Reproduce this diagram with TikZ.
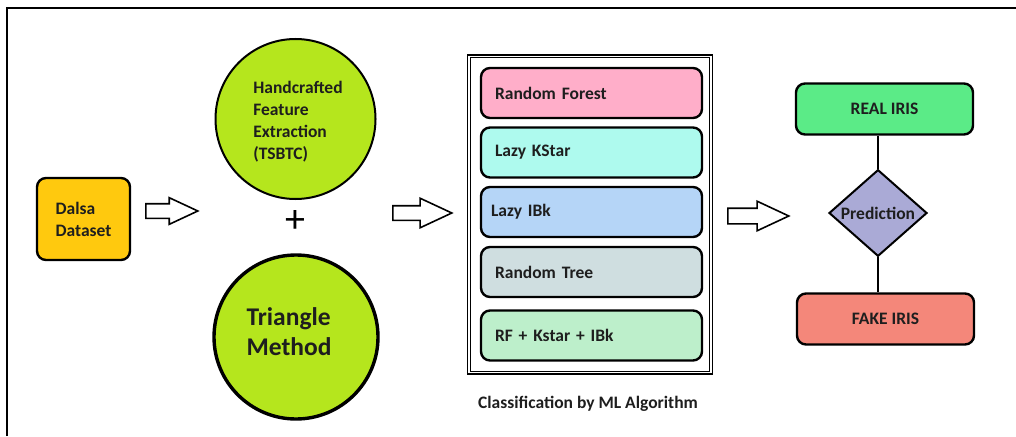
\documentclass[tikz,border=0pt]{standalone}
\usepackage{fontspec}
\setmainfont{Carlito}
\usetikzlibrary{shapes.geometric,shapes.arrows}
\definecolor{cgold}{HTML}{FFC90E}
\definecolor{clime}{HTML}{B5E61D}
\definecolor{crose}{HTML}{FFAEC9}
\definecolor{caqua}{HTML}{AEFAEE}
\definecolor{csky}{HTML}{B5D5F7}
\definecolor{cgrey}{HTML}{CFDEE0}
\definecolor{cmint}{HTML}{BDEFCB}
\definecolor{creal}{HTML}{5BEB87}
\definecolor{cfake}{HTML}{F4877A}
\definecolor{clav}{HTML}{AAAAD6}
\definecolor{ctext}{HTML}{1E1E1E}
\tikzset{
  x=1pt, y=-1pt,
  every node/.style={font=\fontsize{17.5}{22}\selectfont\bfseries, text=ctext},
  rbox/.style={draw=black, line width=2.4pt, rounded corners=9pt, inner sep=0pt},
  algbox/.style={rbox, minimum width=221pt, minimum height=50pt, text width=193pt, align=left},
  blockarrow/.style={single arrow, draw=black, line width=1.6pt, fill=white, inner sep=0pt,
    single arrow tip angle=50, anchor=tail},
}
\begin{document}
\begin{tikzpicture}
\useasboundingbox (0,0) rectangle (1016,436);
% frame
\draw[line width=1.8pt] (7,436) -- (7,8) -- (1016,8);

% dataset
\node[rbox, fill=cgold, minimum width=93pt, minimum height=82pt, align=left] (data) at (83.5,219) {Dalsa\\Dataset};
\node[blockarrow, inner ysep=6.5pt, single arrow head extend=6pt, minimum height=52pt] (a1) at (145,211) {};

% circles
\node[circle, draw=black, line width=2pt, fill=clime, minimum size=160pt, inner sep=0pt] (hfe) at (295.5,119) {};
\node[align=left] (hfet) at (298,122) {Handcrafted\\Feature\\Extraction\\(TSBTC)};
\node[font=\fontsize{40}{40}\selectfont, text=black] (plus) at (295,222) {+};
\node[circle, draw=black, line width=3.4pt, fill=clime, minimum size=164pt, inner sep=0pt] (tri) at (296,337) {};
\node[align=left, font=\fontsize{25.5}{30}\selectfont\bfseries] (trit) at (289,332) {Triangle\\Method};

\node[blockarrow, inner ysep=6.5pt, single arrow head extend=7.5pt, minimum height=59pt] (a2) at (392,213) {};

% classification
\node[draw=black, double, line width=1.3pt, double distance=1.4pt, minimum width=242pt, minimum height=316pt, inner sep=0pt] (cls) at (590,214.5) {};
\node[algbox, fill=crose] (rf) at (591.5,93) {Random Forest};
\node[algbox, fill=caqua] (ks) at (591.5,152.5) {Lazy KStar};
\node[algbox, fill=csky] (ib) at (591.5,212) {\hspace*{-4pt}Lazy IBk};
\node[algbox, fill=cgrey] (rt) at (591.5,272) {Random Tree};
\node[algbox, fill=cmint] (en) at (591.5,335.5) {RF + Kstar + IBk};
\node (cap) at (588,404) {Classification by ML Algorithm};

\node[blockarrow, inner ysep=7pt, single arrow head extend=7pt, minimum height=61pt] (a3) at (727,216) {};

% prediction
\node[rbox, fill=creal, minimum width=177pt, minimum height=51pt] (real) at (884.5,109) {REAL IRIS};
\node[diamond, draw=black, line width=2pt, fill=clav, minimum width=98pt, minimum height=83pt, inner sep=0pt] (pred) at (878,213) {Prediction};
\node[rbox, fill=cfake, minimum width=177pt, minimum height=51pt] (fake) at (885.5,319) {FAKE IRIS};
\draw[line width=2pt] (pred.north) -- (pred.north |- real.south);
\draw[line width=2pt] (pred.south) -- (pred.south |- fake.north);
\end{tikzpicture}
\end{document}
